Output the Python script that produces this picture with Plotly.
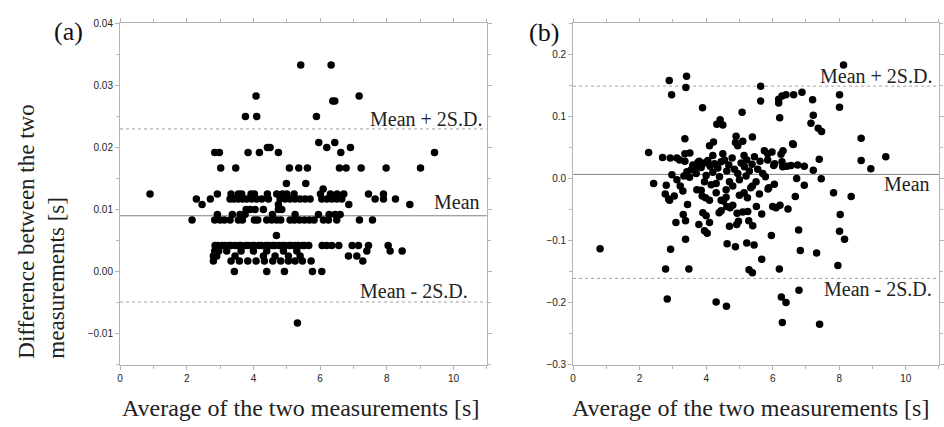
import plotly.graph_objects as go

# ---------------- Panel (a) data: rows of (difference level -> list of averages)
a_levels = [0.0333, 0.0283, 0.0275, 0.0250, 0.0208, 0.0200, 0.0192, 0.0167, 0.0142, 0.0133,
            0.0125, 0.0117, 0.0108, 0.0100, 0.0092, 0.0083, 0.0058, 0.0042, 0.0033, 0.0025,
            0.0017, 0.0000, -0.0083]
a_rows = [
    [5.42, 6.33],
    [4.08, 7.17],
    [6.38, 6.44],
    [3.76, 4.10, 5.89],
    [5.96, 6.44],
    [4.42, 4.50, 6.20, 6.91],
    [2.84, 2.98, 3.84, 4.18, 4.75, 6.62, 9.43],
    [3.02, 3.47, 5.08, 5.36, 5.62, 6.58, 6.78, 7.23, 7.98, 9.01],
    [4.99, 5.57],
    [6.09],
    [0.90, 2.92, 3.33, 3.55, 3.65, 3.93, 4.03, 4.42, 4.70, 4.87, 5.00, 5.22, 6.01, 6.31, 6.51, 6.71, 7.45, 7.90],
    [2.29, 2.71, 3.30, 3.42, 3.55, 3.68, 3.80, 3.95, 4.10, 4.25, 4.45, 4.80, 4.95, 5.10, 5.25, 5.40,
     5.55, 5.70, 6.05, 6.20, 6.35, 6.50, 6.65, 7.65, 7.90, 8.26],
    [2.46, 4.75, 6.86, 8.69],
    [3.78, 3.90, 4.05, 4.30, 4.75, 4.85],
    [2.92, 3.37, 3.60, 3.75, 4.57, 5.25, 5.95, 6.27, 6.45, 6.60],
    [2.16, 2.84, 3.00, 3.13, 3.30, 3.55, 3.67, 4.03, 4.13, 4.40, 4.55, 4.70, 4.82, 5.10, 5.23, 5.38,
     5.53, 5.68, 5.82, 6.10, 6.25, 6.50, 7.18, 7.57],
    [4.69],
    [2.85, 2.93, 3.06, 3.14, 3.27, 3.33, 3.46, 3.58, 3.63, 3.77, 3.84, 3.97, 4.03, 4.16, 4.24, 4.37,
     4.44, 4.57, 4.63, 4.76, 4.86, 4.94, 5.07, 5.13, 5.26, 5.34, 5.47, 5.53, 5.66, 6.06, 6.20, 6.35,
     6.56, 6.96, 7.15, 7.45, 8.04],
    [2.84, 2.96, 3.20, 3.63, 4.00, 4.40, 4.90, 5.30, 7.40, 8.10, 8.46],
    [2.80, 2.90, 3.45, 4.30, 4.65, 5.05, 5.40, 6.85, 7.10],
    [2.80, 3.33, 3.58, 3.83, 4.08, 4.33, 4.58, 4.82, 5.05, 5.25, 5.47, 5.73, 7.28],
    [3.43, 4.40, 4.93, 5.77, 6.05],
    [5.32],
]
a_x = [x for row in a_rows for x in row]
a_y = [lev for lev, row in zip(a_levels, a_rows) for _ in row]

a_mean, a_plus, a_minus = 0.0090, 0.0230, -0.0049

# ---------------- Panel (b) data
b_pts = [
    (8.13, 0.183), (2.89, 0.158), (3.41, 0.165), (2.96, 0.135), (3.39, 0.147), (5.64, 0.149),
    (5.64, 0.125), (3.89, 0.114), (5.08, 0.107), (6.18, 0.128), (6.18, 0.122), (6.28, 0.133),
    (6.40, 0.135), (6.63, 0.135), (6.88, 0.139), (7.20, 0.127), (7.22, 0.102), (7.15, 0.089),
    (7.37, 0.081), (7.47, 0.076), (8.01, 0.135), (8.01, 0.115), (6.21, 0.098), (4.42, 0.095),
    (4.32, 0.0875), (4.50, 0.0865), (6.62, 0.055), (8.66, 0.065), (8.66, 0.029), (8.95, 0.016),
    (9.40, 0.035), (2.27, 0.042), (2.42, -0.008), (3.36, 0.064), (7.83, -0.023), (8.36, -0.029),
    (7.46, -0.0005), (7.40, 0.031), (7.22, 0.0135), (6.30, 0.019), (6.55, 0.021), (6.75, 0.022),
    (6.95, 0.020), (8.03, -0.058), (6.72, 0.0), (6.95, -0.011), (6.68, -0.029), (6.05, -0.009),
    (5.86, -0.017), (6.31, 0.045), (5.98, 0.043), (6.25, 0.039), (5.39, 0.067), (5.10, 0.060),
    (4.90, 0.068), (4.88, 0.058), (4.95, 0.053), (4.10, 0.053), (4.22, 0.059), (5.14, 0.037),
    (2.69, 0.034), (2.92, 0.033), (3.12, 0.033), (3.36, 0.040), (3.51, 0.041), (3.36, 0.028),
    (3.79, 0.028), (4.20, 0.037), (6.60, 0.056), (6.06, 0.024), (6.28, 0.027),
    (0.81, -0.113), (2.78, -0.146), (2.83, -0.194), (2.93, -0.114), (3.48, -0.146), (3.38, -0.098),
    (3.09, -0.071), (3.38, -0.068), (3.31, -0.058), (3.78, -0.074), (3.95, -0.084), (4.03, -0.088),
    (4.10, -0.071), (3.90, -0.055), (4.00, -0.060), (4.30, -0.199), (4.61, -0.206), (4.63, -0.105),
    (4.88, -0.110), (4.70, -0.077), (4.92, -0.074), (4.97, -0.069), (5.22, -0.104), (5.44, -0.107),
    (5.29, -0.147), (5.39, -0.152), (5.67, -0.130), (5.96, -0.092), (5.40, -0.076), (5.28, -0.068),
    (5.67, -0.057), (5.51, -0.045), (6.20, -0.146), (6.78, -0.083), (6.83, -0.116), (7.32, -0.120),
    (6.79, -0.180), (6.26, -0.191), (6.40, -0.200), (6.29, -0.232), (7.41, -0.235), (7.96, -0.140),
    (8.01, -0.085), (8.16, -0.098), (6.46, -0.049), (6.22, -0.043), (6.10, -0.047), (6.00, -0.045),
    (4.39, -0.055), (4.45, -0.052), (4.62, -0.045), (4.72, -0.047), (4.80, -0.043), (3.44, -0.042),
    (2.90, -0.035), (4.93, -0.056), (5.10, -0.054), (5.25, -0.053),
    (2.80, -0.011), (2.97, 0.006), (2.77, -0.025), (2.87, -0.033), (3.04, -0.028), (3.12, -0.002),
    (3.22, -0.012), (3.30, -0.020), (3.33, 0.004), (3.42, 0.011), (3.55, 0.014), (3.65, 0.016),
    (3.72, -0.018), (3.85, -0.019), (3.88, -0.028), (3.98, -0.031), (4.15, -0.010), (4.10, -0.035),
    (4.30, -0.023), (4.45, -0.035), (4.52, -0.036), (4.60, -0.018), (5.14, -0.023), (5.34, -0.015),
    (5.39, -0.012), (5.24, -0.031), (5.88, -0.015), (6.03, 0.021), (6.43, 0.020),
    (3.60, 0.022), (3.75, 0.026), (3.85, 0.018), (3.95, 0.025), (4.05, 0.029), (4.12, 0.020),
    (4.25, 0.024), (4.35, 0.017), (4.45, 0.027), (4.55, 0.030), (4.62, 0.012), (4.68, 0.022),
    (4.78, 0.033), (4.85, 0.015), (4.95, 0.008), (5.05, 0.025), (5.15, 0.019), (5.22, 0.030),
    (5.30, 0.012), (5.38, 0.023), (5.45, 0.035), (5.55, 0.015), (5.62, 0.028), (5.70, 0.008),
    (5.78, 0.003), (5.85, 0.030), (3.50, 0.002), (3.70, 0.008), (4.00, 0.005), (4.20, 0.010),
    (4.40, 0.003), (4.70, -0.005), (5.00, -0.002), (5.20, 0.004), (5.50, -0.005), (3.95, -0.005),
    (4.30, -0.008), (4.80, -0.012), (5.00, -0.027), (5.60, -0.025), (4.60, -0.030), (3.20, 0.030),
    (4.50, 0.040), (5.75, 0.045), (5.85, 0.040),
]
b_x = [p[0] for p in b_pts]
b_y = [p[1] for p in b_pts]

b_mean, b_plus, b_minus = 0.0067, 0.149, -0.161

x_span = [0, 11]
x_title = "Average of the two measurements [s]"
y_title = "Difference between the two<br>measurements [s]"

W, H = 944, 427
SERIF = "Liberation Serif, Times New Roman, serif"
SANS = "Liberation Sans, Arial, sans-serif"

fig = go.Figure()

def ref_lines(xa, ya, mean, plus, minus):
    for val, dash, col in [(plus, "dot", "#a0a0a0"), (minus, "dot", "#a0a0a0"), (mean, "solid", "#808080")]:
        fig.add_trace(go.Scatter(x=x_span, y=[val, val], mode="lines", xaxis=xa, yaxis=ya,
                                 line=dict(color=col, width=1, dash=dash), hoverinfo="skip",
                                 showlegend=False))

ref_lines("x", "y", a_mean, a_plus, a_minus)
ref_lines("x2", "y2", b_mean, b_plus, b_minus)

fig.add_trace(go.Scatter(x=a_x, y=a_y, mode="markers", xaxis="x", yaxis="y",
                         marker=dict(size=7.5, color="black"), showlegend=False))
fig.add_trace(go.Scatter(x=b_x, y=b_y, mode="markers", xaxis="x2", yaxis="y2",
                         marker=dict(size=7.5, color="black"), showlegend=False))

axis_common = dict(showline=True, linecolor="#b4b4b4", linewidth=1, mirror="allticks",
                   ticks="outside", ticklen=4, tickcolor="#b4b4b4", showgrid=False,
                   zeroline=False, tickfont=dict(family=SANS, size=10, color="#222222"))

ytop, ybot = 1 - 18 / H, 1 - 369 / H
fig.update_layout(
    width=W, height=H, autosize=False, margin=dict(l=0, r=0, t=0, b=0),
    plot_bgcolor="white", paper_bgcolor="white", showlegend=False,
    xaxis=dict(axis_common, domain=[118 / W, 488 / W], range=x_span, tick0=0, dtick=2,
               anchor="y", minor=dict(ticks="outside", ticklen=3, dtick=1, tickcolor="#b4b4b4")),
    yaxis=dict(axis_common, domain=[ybot, ytop], range=[-0.015, 0.04], tick0=0, dtick=0.01,
               tickformat=".2f", anchor="x",
               minor=dict(ticks="outside", ticklen=3, dtick=0.005, tickcolor="#b4b4b4")),
    xaxis2=dict(axis_common, domain=[575 / W, 1.0], range=x_span, tick0=0, dtick=2,
                anchor="y2", minor=dict(ticks="outside", ticklen=3, dtick=1, tickcolor="#b4b4b4")),
    yaxis2=dict(axis_common, domain=[ybot, ytop], range=[-0.3, 0.25], tick0=0, dtick=0.1,
                tickformat=".1f", anchor="x2",
                minor=dict(ticks="outside", ticklen=3, dtick=0.05, tickcolor="#b4b4b4")),
)

ann = []
def px(xp):
    return xp / W
def py(yp):
    return 1 - yp / H

title_font = dict(family=SERIF, size=24, color="#222")
# axis titles
ann.append(dict(text=x_title, x=px(300), y=py(414), xref="paper", yref="paper",
                xanchor="center", yanchor="middle", showarrow=False, font=title_font))
ann.append(dict(text=x_title, x=px(754), y=py(414), xref="paper", yref="paper",
                xanchor="center", yanchor="middle", showarrow=False, font=title_font))
ann.append(dict(text=y_title, x=px(38.5), y=py(232), xref="paper", yref="paper",
                xanchor="center", yanchor="middle", textangle=-90, align="left",
                showarrow=False, font=dict(family=SERIF, size=23, color="#222")))
# panel letters
ann.append(dict(text="(a)", x=px(66), y=py(26), xref="paper", yref="paper", showarrow=False,
                xanchor="center", yanchor="middle", font=dict(family=SERIF, size=26, color="#111")))
ann.append(dict(text="(b)", x=px(546), y=py(27), xref="paper", yref="paper", showarrow=False,
                xanchor="center", yanchor="middle", font=dict(family=SERIF, size=26, color="#111")))

lab_font = dict(family=SERIF, size=20, color="#222")
for txt, xx, yy, xr, yr in [
    ("Mean + 2S.D.", 10.92, 0.02453, "x", "y"),
    ("Mean", 10.85, 0.01125, "x", "y"),
    ("Mean - 2S.D.", 10.50, -0.0031, "x", "y"),
    ("Mean + 2S.D.", 10.86, 0.165, "x2", "y2"),
    ("Mean", 10.78, -0.0094, "x2", "y2"),
    ("Mean - 2S.D.", 10.85, -0.1786, "x2", "y2"),
]:
    ann.append(dict(text=txt, x=xx, y=yy, xref=xr, yref=yr, xanchor="right", yanchor="middle",
                    showarrow=False, font=lab_font))

fig.update_layout(annotations=ann)
fig.write_html("out.html", config={"displayModeBar": False},
               post_script="document.body.style.margin='0';document.body.style.overflow='hidden';")
